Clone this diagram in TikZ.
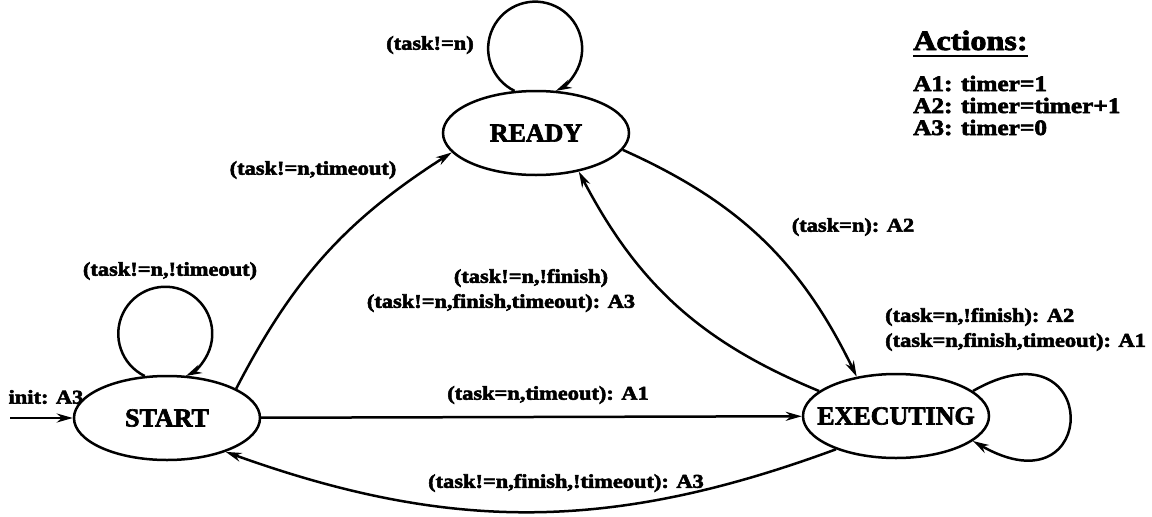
\documentclass[tikz,border=0pt]{standalone}
\usepackage{fontspec}
\setmainfont{Liberation Serif}[BoldFeatures={FakeBold=2.5}]
\newfontfamily\lblfont[FakeStretch=1.15, BoldFeatures={FakeBold=2.8}]{Liberation Serif}
\usetikzlibrary{shapes.geometric,arrows.meta}

\tikzset{
  state/.style={ellipse, draw, line width=2.5pt, minimum width=186pt,
    minimum height=84pt, inner sep=0pt,
    font=\fontsize{26}{30}\selectfont\bfseries},
  lbl/.style={inner sep=0pt, font=\lblfont\fontsize{19.5}{22}\selectfont\bfseries},
  acttext/.style={inner sep=0pt, anchor=base west,
    font=\lblfont\fontsize{22}{26}\selectfont\bfseries},
  edge/.style={line width=2.5pt, -{Stealth[length=16pt,width=9pt]}},
}

\begin{document}
\begin{tikzpicture}[x=1pt,y=1pt]
\useasboundingbox (0,0) rectangle (1152,-517);

% states
\node[state] (start) at (167,-418) {\makebox[0pt]{START}};
\node[state] (ready) at (536,-133) {\makebox[0pt]{READY}};
\node[state] (exec)  at (896,-416) {\makebox[0pt]{EXECUTING}};
\coordinate (init) at (10,-418);

% transitions
\draw[edge] (init) -- (start);
\draw[edge] (start.118) arc[start angle=244, end angle=-64, radius=47];
\draw[edge] (ready.117) arc[start angle=244, end angle=-64, radius=47];
\draw[edge] (exec.18) .. controls +(129,74) and +(129,-74) .. (exec.-18);
\draw[edge] (start.23) to[bend left=15] (ready.193);
\draw[edge] (ready.-11) to[bend left=20] (exec.135);
\draw[edge] (exec.162) to[bend left=20] (ready.-42);
\draw[edge] (start) -- (exec);
\draw[edge] (exec.209) to[bend left=20] (start.-30);

% transition labels
\node[lbl] (linit) at (46,-397) {init: A3};
\node[lbl] (lsl) at (170,-271) {(task!=n,!timeout)};
\node[lbl] (lrl) at (430,-45) {(task!=n)};
\node[lbl] (lsr) at (313,-170) {(task!=n,timeout)};
\node[lbl] (lre) at (853,-227) {(task=n): A2};
\node[lbl] (ler1) at (531,-278) {(task!=n,!finish)};
\node[lbl] (ler2) at (501,-303) {(task!=n,finish,timeout): A3};
\node[lbl, anchor=west] (lee1) at (885,-317) {(task=n,!finish): A2};
\node[lbl, anchor=west] (lee2) at (885,-342) {(task=n,finish,timeout): A1};
\node[lbl] (lse) at (548,-395) {(task=n,timeout): A1};
\node[lbl] (les) at (566,-483) {(task!=n,finish,!timeout): A3};

% action legend
\node[acttext, font=\lblfont\fontsize{28}{32}\selectfont\bfseries] (acts) at (913,-50) {Actions:};
\draw[line width=2.5pt] ([yshift=-6pt]acts.base west) -- ([yshift=-6pt]acts.base east);
\node[acttext] (a1) at (913,-91) {A1: timer=1};
\node[acttext] (a2) at (913,-113) {A2: timer=timer+1};
\node[acttext] (a3) at (913,-135) {A3: timer=0};
\end{tikzpicture}
\end{document}
